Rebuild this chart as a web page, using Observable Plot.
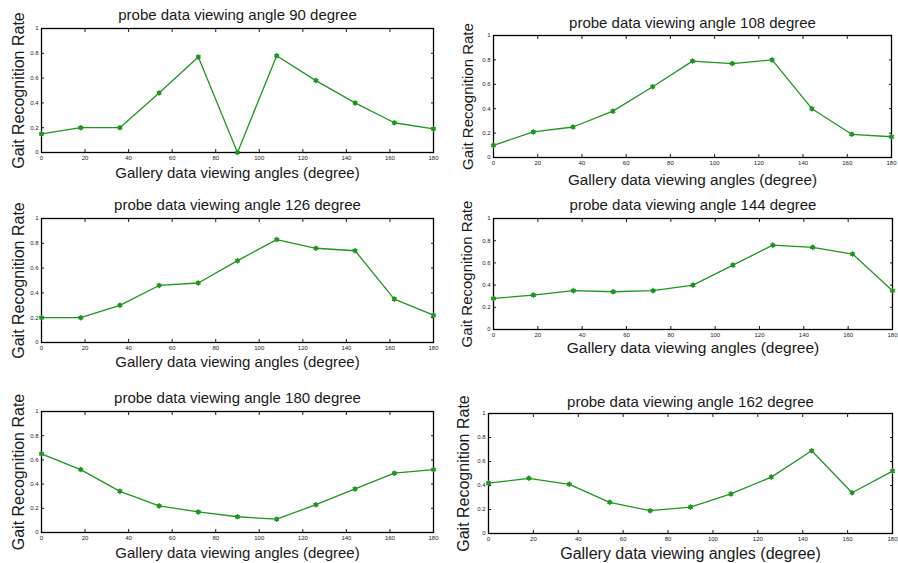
<!DOCTYPE html>
<html><head><meta charset="utf-8">
<script src="https://cdn.jsdelivr.net/npm/d3@7"></script>
<script src="https://cdn.jsdelivr.net/npm/@observablehq/plot@0.6"></script>
<style>
html,body{margin:0;padding:0;background:#fff;}
body{width:898px;height:563px;overflow:hidden;position:relative;}
.panel{position:absolute;}
.panel svg{overflow:visible;max-width:none !important;}
</style></head><body>
<script>
// ---- data ----
const galleryAngles = [0, 18, 36, 54, 72, 90, 108, 126, 144, 162, 180];
const probe90  = [0.15, 0.20, 0.20, 0.48, 0.77, 0.00, 0.78, 0.58, 0.40, 0.24, 0.19];
const probe108 = [0.10, 0.21, 0.25, 0.38, 0.58, 0.79, 0.77, 0.80, 0.40, 0.19, 0.17];
const probe126 = [0.20, 0.20, 0.30, 0.46, 0.48, 0.66, 0.83, 0.76, 0.74, 0.35, 0.22];
const probe144 = [0.28, 0.31, 0.35, 0.34, 0.35, 0.40, 0.58, 0.76, 0.74, 0.68, 0.35];
const probe180 = [0.65, 0.52, 0.34, 0.22, 0.17, 0.13, 0.11, 0.23, 0.36, 0.49, 0.52];
const probe162 = [0.42, 0.46, 0.41, 0.26, 0.19, 0.22, 0.33, 0.47, 0.69, 0.34, 0.52];
const xTicks = [0, 20, 40, 60, 80, 100, 120, 140, 160, 180];
const yTicks = [0, 0.2, 0.4, 0.6, 0.8, 1];
const yTickLabels = ["0", "0.2", "0.4", "0.6", "0.8", "1"];
const titles = [
  "probe data viewing angle 90 degree",
  "probe data viewing angle 108 degree",
  "probe data viewing angle 126 degree",
  "probe data viewing angle 144 degree",
  "probe data viewing angle 180 degree",
  "probe data viewing angle 162 degree"
];
const xLabel = "Gallery data viewing angles (degree)";
const yLabel = "Gait Recognition Rate";
const series = [probe90, probe108, probe126, probe144, probe180, probe162];

// ---- layout (frame boxes in page pixels) ----
const layout = [
  {l: 41,  r: 433, t: 28,  b: 152, tdy: -13, xdy: 21, ydx: -23, tfs: 15, xfs: 15, yfs: 16},
  {l: 493, r: 891, t: 35,  b: 157, tdy: -12, xdy: 23, ydx: -25, tfs: 15, xfs: 15.3, yfs: 15},
  {l: 41,  r: 433, t: 218, b: 342, tdy: -13, xdy: 20, ydx: -23, tfs: 15, xfs: 15, yfs: 16},
  {l: 493, r: 892, t: 218, b: 329, tdy: -13, xdy: 19, ydx: -26, tfs: 15, xfs: 15.5, yfs: 15},
  {l: 41,  r: 433, t: 411, b: 532, tdy: -13, xdy: 21, ydx: -23, tfs: 15, xfs: 15, yfs: 16},
  {l: 488, r: 892, t: 413, b: 533, tdy: -11, xdy: 20, ydx: -25, tfs: 15, xfs: 16, yfs: 16}
];

const green = "#1f961f";
const ink = "#1a1a1a";
const mL = 45, mR = 15, mT = 30, mB = 35;

series.forEach((vals, i) => {
  const L = layout[i];
  const data = galleryAngles.map((a, j) => ({angle: a, rate: vals[j]}));
  const fmtY = d => yTickLabels[yTicks.indexOf(d)] ?? String(d);
  const W = (L.r - L.l) + mL + mR, H = (L.b - L.t) + mT + mB;
  const plot = Plot.plot({
    width: W,
    height: H,
    marginLeft: mL, marginRight: mR, marginTop: mT, marginBottom: mB,
    style: {fontFamily: "'Liberation Sans', Arial, sans-serif", background: "transparent", color: ink, maxWidth: "none"},
    x: {domain: [0, 180]},
    y: {domain: [0, 1]},
    marks: [
      Plot.axisX(xTicks, {anchor: "bottom", tickSize: -3, tickPadding: 6, fontSize: 6, label: null, stroke: ink}),
      Plot.axisX(xTicks, {anchor: "top", tickSize: -3, tickFormat: () => "", label: null, stroke: ink}),
      Plot.axisY(yTicks, {anchor: "left", tickSize: -3, tickPadding: 6, fontSize: 6, tickFormat: fmtY, label: null, stroke: ink}),
      Plot.axisY(yTicks, {anchor: "right", tickSize: -3, tickFormat: () => "", label: null, stroke: ink}),
      Plot.frame({stroke: "#000", strokeWidth: 1.3}),
      Plot.line(data, {x: "angle", y: "rate", stroke: green, strokeWidth: 1.3}),
      Plot.dot(data, {x: "angle", y: "rate", fill: green, stroke: green, r: 1.5, symbol: "circle"}),
      Plot.dot(data, {x: "angle", y: "rate", stroke: green, r: 2.6, symbol: "asterisk", strokeWidth: 1.1}),
      Plot.text([titles[i]], {frameAnchor: "top", dy: L.tdy, fontSize: L.tfs, fill: ink, lineAnchor: "middle"}),
      Plot.text([xLabel], {frameAnchor: "bottom", dy: L.xdy, fontSize: L.xfs, fill: ink, lineAnchor: "middle"}),
      Plot.text([yLabel], {frameAnchor: "left", dx: L.ydx, rotate: -90, fontSize: L.yfs, fill: ink, lineAnchor: "middle", textAnchor: "middle"})
    ]
  });
  const div = document.createElement("div");
  div.className = "panel";
  div.style.left = (L.l - mL) + "px";
  div.style.top = (L.t - mT) + "px";
  div.style.width = W + "px";
  div.style.height = H + "px";
  div.appendChild(plot);
  document.body.appendChild(div);
});
</script>
</body></html>
